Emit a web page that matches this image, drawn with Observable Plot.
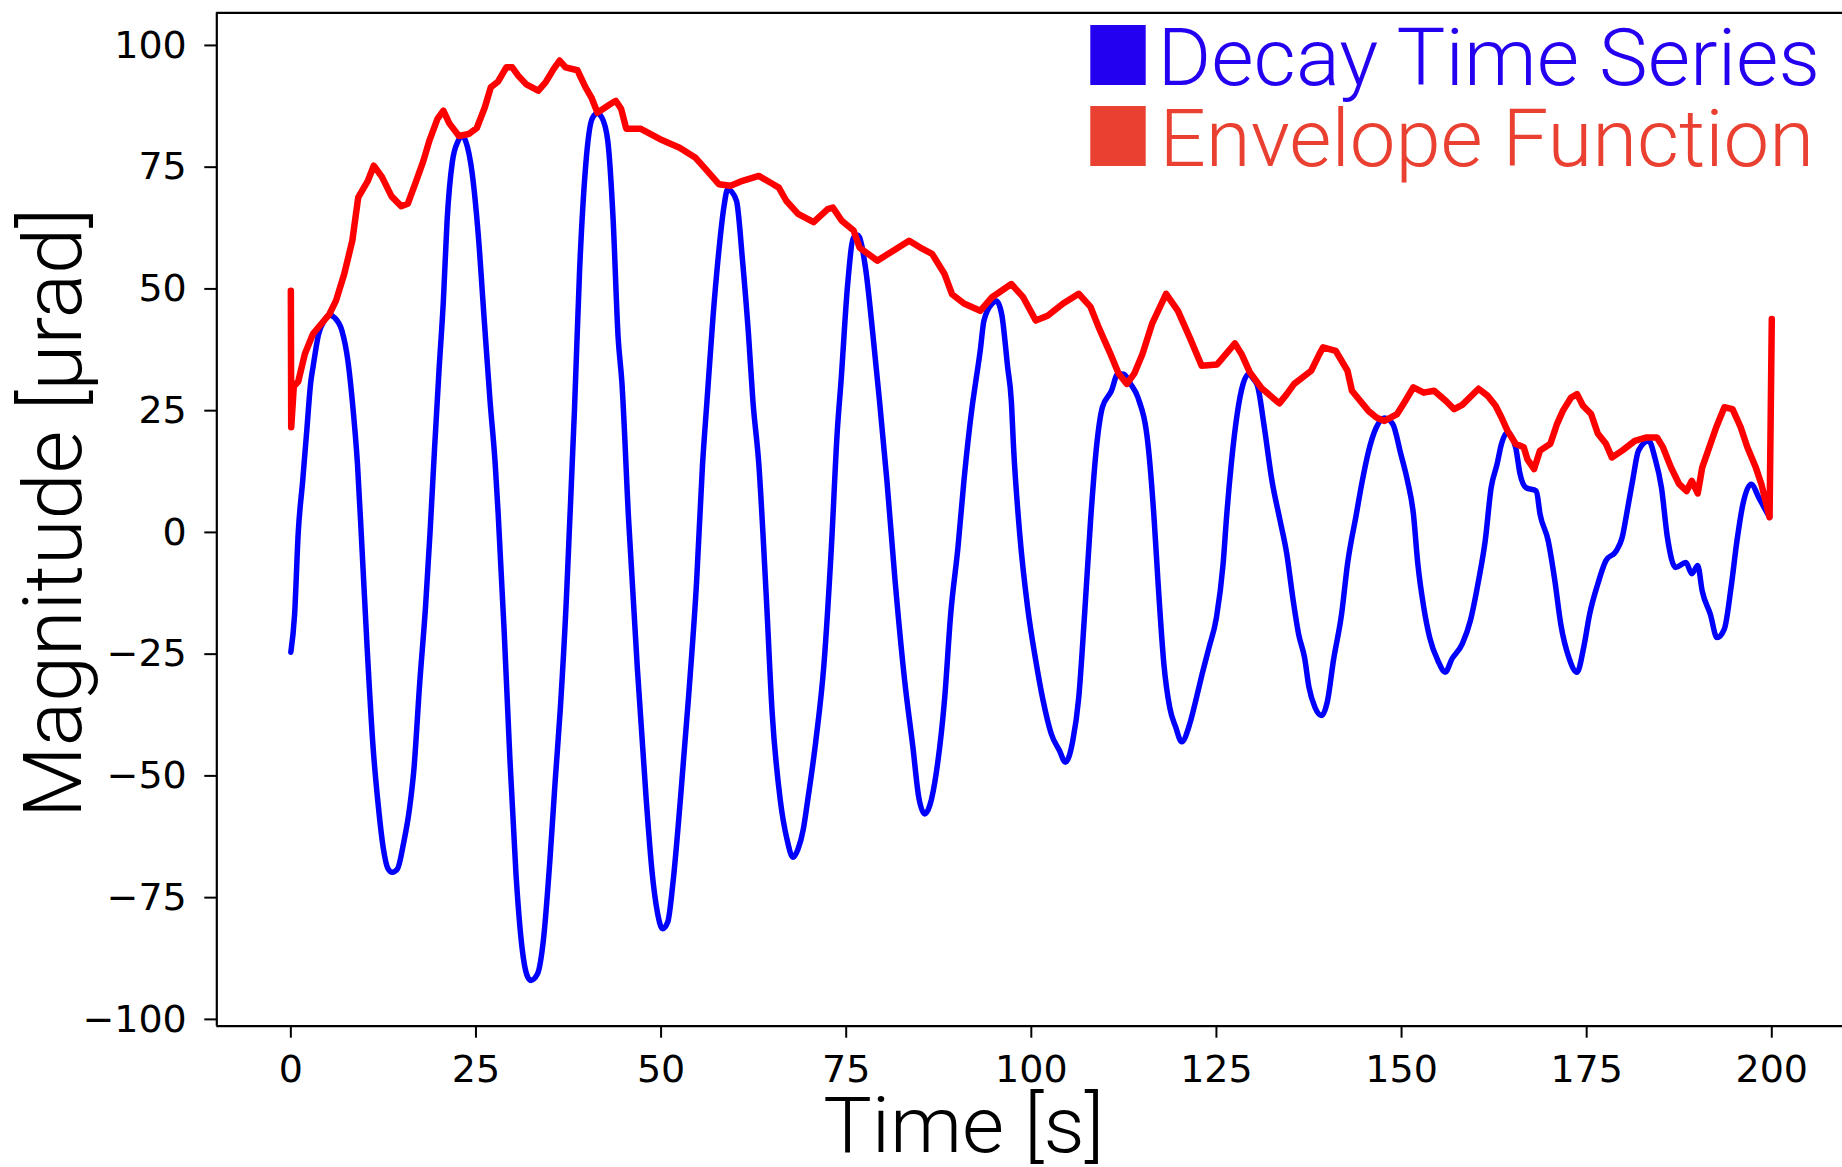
<!DOCTYPE html>
<html>
<head>
<meta charset="utf-8">
<script src="https://cdn.jsdelivr.net/npm/d3@7"></script>
<script src="https://cdn.jsdelivr.net/npm/@observablehq/plot@0.6"></script>
<style>
  html, body { margin: 0; padding: 0; background: #fff; }
  svg { display: block; }
</style>
</head>
<body>
<script>
// ---- data ----
const decayT = [0,0.5,1.0,1.6,2.15,2.7,3.0,3.75,4.5,5.3,5.9,6.9,7.7,8.3,9.0,9.6,10.3,11.1,11.8,12.5,13.1,13.7,14.4,15.2,16.0,16.6,17.4,18.2,18.8,19.4,20.0,20.6,21.1,21.8,22.6,23.1,23.6,24.5,25.3,26.1,26.9,27.6,28.0,28.8,29.6,30.4,31.2,31.9,32.4,33.3,34.1,35.0,35.7,36.4,37.2,37.6,38.3,39.0,39.8,40.7,41.4,42.0,42.8,43.5,44.2,44.7,45.6,46.8,48.0,48.8,49.5,50.2,50.9,51.6,52.6,53.7,54.8,55.6,56.2,57.0,57.8,58.5,59.0,59.5,60.2,61.0,61.8,62.4,63.2,64.2,65.0,66.1,67.0,67.8,68.5,69.2,69.8,70.9,72.0,73.0,73.8,74.3,75.2,76.0,76.6,77.6,78.6,79.5,80.5,81.6,82.9,84.0,84.8,85.6,86.3,87.2,88.3,89.1,90.1,90.9,92.0,92.5,93.1,93.6,94.7,95.3,96.0,96.8,97.3,97.6,98.4,99.5,100.6,101.6,102.7,103.8,104.6,105.6,106.4,107.2,108.0,108.8,109.6,110.8,111.7,112.5,113.4,114.4,115.8,116.6,117.1,117.9,118.7,119.5,120.3,121.4,122.2,123.0,124.0,125.0,125.9,126.4,127.0,127.8,128.6,129.3,130.0,130.6,131.4,132.5,133.6,134.5,135.3,136.1,136.9,137.5,138.3,139.2,140.0,140.8,141.9,142.7,143.9,144.7,145.5,146.6,147.7,148.8,149.9,150.8,151.6,152.2,153.0,153.8,154.9,155.9,156.8,158.2,159.3,160.4,161.3,162.1,162.9,163.5,164.3,165.4,166.0,166.8,168.2,168.7,169.8,170.7,171.5,172.6,173.7,174.6,175.4,176.5,177.6,179.0,179.8,180.4,181.2,182.0,183.4,184.2,185.1,185.9,187.0,188.4,189.2,190.0,190.6,191.7,192.6,193.6,194.5,195.3,196.1,197.2,198.3,199.0,199.7];
const decayV = [-24.6,-17,0,10.6,20.9,31,34,40.7,43.5,44.6,44.1,41.4,35.3,27,14,-3,-23.6,-44,-56,-65,-69,-69.8,-69.1,-64,-57,-49,-31,-15,0,17,33,47.6,64,76,80.4,81.5,80.4,73.6,61.3,44,27,14,3.8,-20,-47,-70,-85,-91,-92,-90.7,-83.8,-67,-51,-36,-14,0,25,54,75,85,86,85.2,80.4,65,40,31,3,-28,-55,-70,-78,-81.4,-80,-72,-55,-34,-10,14,27,44,57.8,67,70.5,70,68,55.8,40.8,27,14,-13,-37,-55,-63,-66.7,-65,-61,-55,-42.8,-27,-3,20.9,31,51,60.6,61,54.4,40.7,27,10.6,-9.9,-30.5,-44,-54.4,-57.8,-56,-49,-34,-17,-3,10.6,25.7,31,37.3,43.5,47,47.5,44.8,34,27,17.5,0.3,-15.4,-26.3,-34.6,-41.4,-44.8,-47.2,-42.8,-34,-16.7,2.4,17.5,25.7,29,32.6,32.5,30.5,27.7,17.5,2.4,-9.9,-27,-36,-40,-43,-39.3,-34.6,-29.5,-23.6,-17.5,-6.5,3.8,14,24.3,30.5,32.5,31.5,29.8,22.3,10.6,2.4,-4.4,-13.3,-20.9,-25.7,-31.8,-35.9,-37.6,-34.6,-26.3,-16.8,-6.5,3.8,10.6,16.4,21.6,23.5,22.3,16.1,10.6,3.8,-6.5,-15.4,-21.6,-26.3,-28.7,-26,-22.9,-18.1,-9.9,-1.7,9.2,14,18.2,20.5,17.5,12,9.2,8.5,3.8,-1.7,-9.9,-18.8,-25.7,-28.7,-23.6,-16.8,-10.6,-5.8,-3.8,-1,3.8,10.6,16.8,18.8,15.4,9.2,-1,-7.2,-6.2,-8.5,-6.8,-12,-16.8,-21.6,-19.8,-11.3,-1.7,5.8,9.9,7,5,3.1];

const envT = [0,0.05,0.4,1.0,1.9,3.0,4.1,5.2,6.1,7.2,8.3,9.1,10.4,11.2,12.3,13.6,14.9,15.8,16.8,17.9,18.7,19.8,20.6,21.4,22.7,24.0,25.1,26.2,27.0,28.0,29.1,29.9,30.7,31.8,33.4,34.4,35.5,36.3,37.1,38.7,39.8,40.6,41.4,42.4,43.5,43.9,44.6,45.3,47.2,49.8,52.5,54.6,56.2,57.8,59.4,61.0,63.2,64.8,65.9,66.9,68.5,70.6,72.5,73.2,74.4,76.0,76.8,79.2,81.3,83.5,85.0,86.6,88.3,89.3,90.9,93.1,94.7,97.3,98.9,100.6,102.2,104.3,106.4,108.0,109.1,110.7,111.8,112.9,113.9,115.0,116.3,118.2,119.8,121.4,123.0,125.1,127.5,128.4,129.5,131.1,133.5,134.5,135.5,137.8,138.9,139.4,141.1,142.7,143.3,145.5,146.6,147.7,149.4,150.5,151.6,153.0,154.4,156.0,157.1,158.2,160.4,161.6,162.7,163.5,164.3,165.4,166.5,167.0,167.9,168.7,170.1,171.0,171.8,172.9,173.7,174.5,175.6,176.5,177.6,178.4,179.8,181.5,183.1,184.5,185.3,186.4,187.5,188.5,189.2,190.0,190.6,191.4,192.5,193.6,194.7,195.8,196.7,197.8,198.6,199.7,200];
const envV = [49.6,21.6,30,31,36.7,40.8,42.8,44.8,47.6,53,59.9,68.8,72.2,75.3,73,69,67,67.5,71.6,76.3,80.4,84.9,86.6,84,81.4,81.8,83,87.3,91.4,92.6,95.5,95.5,93.8,92,90.7,92.4,95.2,96.9,95.5,94.9,91.4,89.3,86.2,87.2,88.3,88.6,87,82.9,82.9,80.8,79,77,74.3,71.5,71.2,72.2,73.2,71.8,70.8,68.1,65.4,63.7,66.4,66.7,64,62,58.5,55.8,57.8,59.9,58.5,57.2,53,48.9,47,45.5,48.3,51,48.3,43.5,44.5,47,49,46.3,42.1,36.6,32.6,30.5,32.6,36.6,42.8,49,45.5,40,34.2,34.5,38.8,36.6,32.9,29.6,26.5,28.4,30.5,33.2,36.6,38,37.3,33.2,29.1,25,23.6,22.9,24.3,27,29.8,28.7,29.1,27,25.3,26.2,29.5,28.1,26,23.6,20.9,18.2,17.5,15,13,16.8,18.2,22.3,25,27.7,28.4,26,24.3,20.3,18.2,15.4,16.8,18.8,19.5,19.5,17.5,13.3,9.9,8.5,10.6,8,13.3,16.8,21.6,25.7,25.3,21.6,17.5,13.5,9.9,3.1,43.8];

const xTicks = [0, 25, 50, 75, 100, 125, 150, 175, 200];
const yTicks = [-100, -75, -50, -25, 0, 25, 50, 75, 100];
const seriesNames = ["Decay Time Series", "Envelope Function"];
const seriesColors = ["#2400F0", "#E94032"];
const xLabel = "Time [s]";
const yLabel = "Magnitude [µrad]";

const decay = decayT.map((t, i) => ({t, v: decayV[i]}));
const envelope = envT.map((t, i) => ({t, v: envV[i]}));

const xDomain = [-10, 209.55];
const yDomain = [-101.4, 106.7];

const svg = Plot.plot({
  width: 1842,
  height: 1167,
  marginLeft: 216.3,
  marginRight: 0,
  marginTop: 12.3,
  marginBottom: 141.3,
  style: {fontFamily: "'DejaVu Sans', sans-serif", color: "#000", background: "#fff"},
  x: {domain: xDomain},
  y: {domain: yDomain},
  marks: [
    Plot.line(decay, {x: "t", y: "v", stroke: "#0000FF", strokeWidth: 5.5, curve: "monotone-x"}),
    Plot.line(envelope, {x: "t", y: "v", stroke: "#FF0000", strokeWidth: 6.5}),
    Plot.ruleX([xDomain[0]], {stroke: "#000", strokeWidth: 2.2}),
    Plot.ruleY(yDomain, {stroke: "#000", strokeWidth: 2.2}),
    Plot.axisX({ticks: xTicks, tickSize: 12, tickPadding: 17, fontSize: 38, strokeWidth: 2, label: null, tickFormat: d => String(d)}),
    Plot.axisY({ticks: yTicks, tickSize: 12, tickPadding: 18, fontSize: 38, strokeWidth: 2, label: null, tickFormat: d => d < 0 ? "\u2212" + Math.abs(d) : String(d)})
  ]
});
document.body.append(svg);

const s = d3.select(svg);
const labelFont = "Roboto, 'Open Sans', Lato, 'Liberation Sans', sans-serif";

// axis titles
s.append("text")
  .attr("x", 963.7).attr("y", 1152)
  .attr("text-anchor", "middle")
  .attr("font-family", labelFont).attr("font-weight", 300)
  .attr("font-size", 78).attr("fill", "#000")
  .attr("textLength", 281).attr("lengthAdjust", "spacingAndGlyphs")
  .text(xLabel);

s.append("text")
  .attr("transform", "translate(81,513) rotate(-90)")
  .attr("text-anchor", "middle")
  .attr("font-family", labelFont).attr("font-weight", 300)
  .attr("font-size", 81).attr("fill", "#000")
  .attr("textLength", 610).attr("lengthAdjust", "spacingAndGlyphs")
  .text(yLabel);

// legend
const legendRows = [
  {y0: 25, y1: 85, tx: 1157.5, tw: 662.5},
  {y0: 106, y1: 166, tx: 1159.5, tw: 654.5}
];
legendRows.forEach((r, i) => {
  s.append("rect")
    .attr("x", 1090.3).attr("y", r.y0)
    .attr("width", 55.4).attr("height", r.y1 - r.y0)
    .attr("fill", seriesColors[i]);
  s.append("text")
    .attr("x", r.tx).attr("y", r.y1)
    .attr("text-anchor", "start")
    .attr("font-family", labelFont).attr("font-weight", 300)
    .attr("font-size", 80).attr("fill", seriesColors[i])
    .attr("textLength", r.tw).attr("lengthAdjust", "spacingAndGlyphs")
    .text(seriesNames[i]);
});
</script>
</body>
</html>
